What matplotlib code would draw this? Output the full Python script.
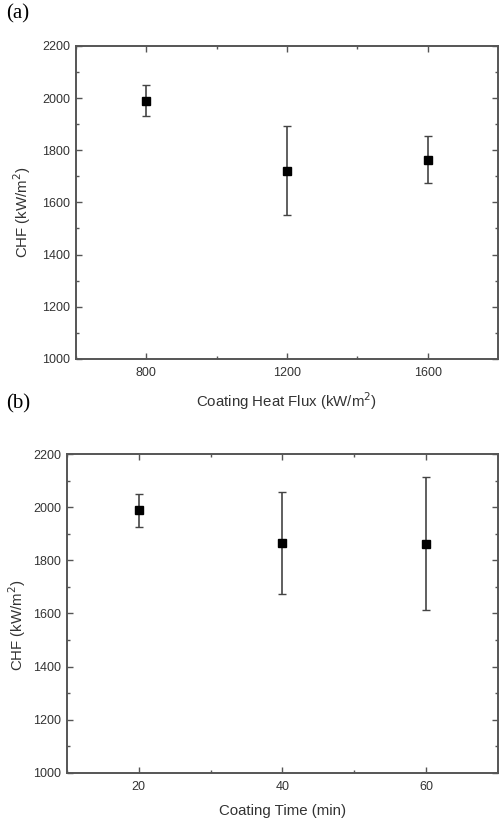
import matplotlib.pyplot as plt
from matplotlib.ticker import MultipleLocator

# (a) CHF vs coating heat flux
flux = [800, 1200, 1600]
chf_a = [1990, 1722, 1763]
err_a = [60, 172, 90]

# (b) CHF vs coating time
time_min = [20, 40, 60]
chf_b = [1988, 1864, 1862]
err_b = [62, 192, 250]

plt.rcParams['font.family'] = ['Liberation Sans', 'DejaVu Sans']
spine_col = '#555555'
txt_col = '#333333'

fig = plt.figure(figsize=(4.99, 8.21), dpi=100)
ax1 = fig.add_axes([0.152, 0.563, 0.846, 0.381])
ax2 = fig.add_axes([0.134, 0.0585, 0.864, 0.3885])


def style(ax, xmaj):
    ax.set_ylim(1000, 2200)
    ax.yaxis.set_major_locator(MultipleLocator(200))
    ax.yaxis.set_minor_locator(MultipleLocator(100))
    ax.xaxis.set_major_locator(MultipleLocator(xmaj))
    ax.xaxis.set_minor_locator(MultipleLocator(xmaj / 2))
    ax.tick_params(which='both', direction='in', top=True, right=True,
                   colors=spine_col, labelcolor=txt_col, labelsize=9, width=1.0)
    ax.tick_params(which='major', length=4)
    ax.tick_params(which='minor', length=2.5)
    ax.tick_params(axis='y', pad=4)
    ax.tick_params(axis='x', pad=6)
    for s in ax.spines.values():
        s.set_color(spine_col)
        s.set_linewidth(1.4)


ax1.errorbar(flux, chf_a, yerr=err_a, fmt='s', color='black', ms=5.5,
             ecolor='#444444', elinewidth=1.2, capsize=3, capthick=1.0)
ax1.set_xlim(600, 1800)
style(ax1, 400)
ax1.set_xlabel('Coating Heat Flux (kW/m$^2$)', fontsize=10.8, color=txt_col, labelpad=8)
ax1.set_ylabel('CHF (kW/m$^2$)', fontsize=10.8, color=txt_col)
ax1.yaxis.set_label_coords(-0.102, 0.47)

ax2.errorbar(time_min, chf_b, yerr=err_b, fmt='s', color='black', ms=5.5,
             ecolor='#444444', elinewidth=1.2, capsize=3, capthick=1.0)
ax2.set_xlim(10, 70)
style(ax2, 20)
ax2.set_xlabel('Coating Time (min)', fontsize=10.8, color=txt_col, labelpad=8)
ax2.set_ylabel('CHF (kW/m$^2$)', fontsize=10.8, color=txt_col)
ax2.yaxis.set_label_coords(-0.09, 0.464)

fig.text(0.012, 0.995, '(a)', fontsize=15, family='Liberation Serif', va='top')
fig.text(0.012, 0.52, '(b)', fontsize=15, family='Liberation Serif', va='top')

fig.savefig('out.png', dpi=100)
